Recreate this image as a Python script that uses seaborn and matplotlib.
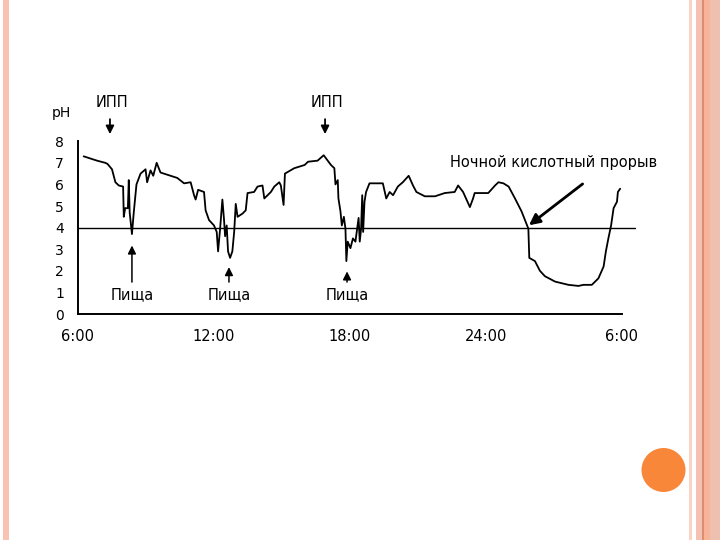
import matplotlib
matplotlib.use("Agg")
import matplotlib.pyplot as plt
import seaborn as sns
import pandas as pd
from matplotlib.patches import Rectangle, Ellipse

# hours after 6:00 and the pH
hours = [0.25, 0.84, 1.2, 1.3, 1.5, 1.65, 1.8, 1.99, 2.02, 2.08, 2.2, 2.24, 2.28, 2.38,
         2.46, 2.58, 2.76, 2.98, 3.05, 3.2, 3.32, 3.47, 3.64, 3.94, 4.38, 4.68, 4.97,
         5.12, 5.19, 5.3, 5.56, 5.63, 5.78, 6.0, 6.12, 6.18, 6.27, 6.37, 6.44, 6.49,
         6.56, 6.62, 6.71, 6.81, 6.89, 6.96, 7.04, 7.26, 7.4, 7.48, 7.77, 7.92, 8.14,
         8.22, 8.51, 8.66, 8.88, 8.95, 9.07, 9.13, 9.54, 10.0, 10.15, 10.57, 10.84,
         11.16, 11.31, 11.36, 11.46, 11.49, 11.58, 11.64, 11.73, 11.8, 11.84, 11.9,
         12.02, 12.13, 12.24, 12.38, 12.43, 12.49, 12.54, 12.58, 12.64, 12.71, 12.86,
         13.45, 13.6, 13.75, 13.9, 14.11, 14.33, 14.59, 14.78, 14.93, 15.3, 15.75,
         16.18, 16.62, 16.77, 16.99, 17.14, 17.29, 17.43, 17.5, 18.1, 18.4, 18.55,
         18.77, 19.0, 19.28, 19.57, 19.87, 19.91, 20.16, 20.38, 20.6, 21.05, 21.64,
         22.08, 22.3, 22.67, 22.96, 23.19, 23.29, 23.4, 23.52, 23.63, 23.78, 23.82, 23.92]
ph = [7.3, 7.1, 7.0, 6.95, 6.7, 6.1, 5.95, 5.9, 4.5, 4.9, 4.9, 6.2, 4.7, 3.7,
      4.7, 6.0, 6.5, 6.7, 6.1, 6.65, 6.4, 7.0, 6.55, 6.45, 6.3, 6.05, 6.1,
      5.5, 5.3, 5.75, 5.65, 4.8, 4.35, 4.1, 3.8, 2.9, 3.95, 5.3, 4.4, 3.6,
      4.1, 2.9, 2.6, 2.9, 3.8, 5.1, 4.5, 4.65, 4.8, 5.6, 5.65, 5.9, 5.95,
      5.35, 5.65, 5.9, 6.1, 5.95, 5.05, 6.5, 6.75, 6.9, 7.05, 7.1, 7.35,
      6.9, 6.75, 6.0, 6.2, 5.35, 4.75, 4.1, 4.5, 3.95, 2.45, 3.35,
      3.05, 3.5, 3.35, 4.45, 3.35, 3.95, 5.5, 3.8, 5.2, 5.65, 6.05,
      6.05, 5.35, 5.65, 5.5, 5.9, 6.1, 6.4, 5.95, 5.65, 5.45, 5.45,
      5.6, 5.65, 5.95, 5.65, 5.3, 4.95, 5.35, 5.6, 5.6, 5.95, 6.1,
      6.05, 5.9, 5.35, 4.75, 3.95, 2.6, 2.45, 2.0, 1.75, 1.5, 1.35,
      1.3, 1.35, 1.35, 1.65, 2.2, 2.9, 3.5, 4.1, 4.9, 5.2, 5.65, 5.8]

tick_hours = [0, 6, 12, 18, 24]
tick_labels = ["6:00", "12:00", "18:00", "24:00", "6:00"]
threshold = 4

ipp_hours = [1.41, 10.9]
food_hours = [2.38, 6.66, 11.87]
food_tips = [3.3, 2.3, 2.1]

sns.set_style("white")
plt.rcParams['font.family'] = ['DejaVu Sans']
plt.rcParams['text.color'] = 'black'

fig = plt.figure(figsize=(7.2, 5.4), dpi=100)
ax = fig.add_axes([78 / 720, 0.4185, 0.787, 0.42])

df = pd.DataFrame({"h": hours, "ph": ph})
sns.lineplot(data=df, x="h", y="ph", ax=ax, color="black", lw=1.3,
             estimator=None, sort=False)

ax.axhline(threshold, xmin=0, xmax=24.57 / 25, color="black", lw=1.0)

ax.set_xlim(0, 25)
ax.set_ylim(0, 10.5)
ax.set_xticks(tick_hours)
ax.set_xticklabels(tick_labels)
ax.set_yticks(range(0, 9))
ax.set_xlabel("")
ax.set_ylabel("")
sns.despine(ax=ax)
ax.spines["bottom"].set_bounds(0, 24)
ax.spines["left"].set_bounds(0, 8)
for s in ["bottom", "left"]:
    ax.spines[s].set_color("black")
    ax.spines[s].set_linewidth(1.4)
ax.tick_params(axis="x", direction="out", length=4, width=1.2, pad=7,
               labelsize=10.5, colors="black")
ax.tick_params(axis="y", direction="out", length=4, width=1.2, pad=6,
               labelsize=10, colors="black")

ax.text(-0.75, 9.3, "pH", ha="center", va="center", fontsize=10, clip_on=False)

for h in ipp_hours:
    ax.text(h + 0.1, 9.8, "ИПП", ha="center", va="center", fontsize=10.5)
    ax.annotate("", xy=(h, 8.2), xytext=(h, 9.15),
                arrowprops=dict(arrowstyle="-|>", color="black", lw=1.3,
                                mutation_scale=12))

for h, tip in zip(food_hours, food_tips):
    ax.text(h, 0.88, "Пища", ha="center", va="center", fontsize=10.5)
    ax.annotate("", xy=(h, tip), xytext=(h, 1.35),
                arrowprops=dict(arrowstyle="-|>", color="black", lw=1.1,
                                mutation_scale=12))

ax.text(21.0, 7.0, "Ночной кислотный прорыв", ha="center", va="center",
        fontsize=10.5)
ax.annotate("", xy=(19.8, 4.03), xytext=(22.36, 6.1),
            arrowprops=dict(arrowstyle="-|>", color="black", lw=2.0,
                            mutation_scale=16))

# slide decoration
fig.add_artist(Rectangle((3 / 720, 0), 6 / 720, 1, transform=fig.transFigure,
                         color="#F9C3B3", lw=0))
stripes = [(689, 3, "#F8D3C6"), (696, 6, "#F3C2B2"), (702, 1.5, "#D98F70"),
           (703.5, 6.5, "#F8B498"), (710, 10, "#EEC0B0")]
for x0, w, c in stripes:
    fig.add_artist(Rectangle((x0 / 720, 0), w / 720, 1, transform=fig.transFigure,
                             color=c, lw=0))
fig.add_artist(Ellipse((663.5 / 720, (540 - 470) / 540), 44 / 720, 44 / 540,
                       transform=fig.transFigure, color="#F9873A", lw=0))

fig.savefig("out.png", dpi=100)
